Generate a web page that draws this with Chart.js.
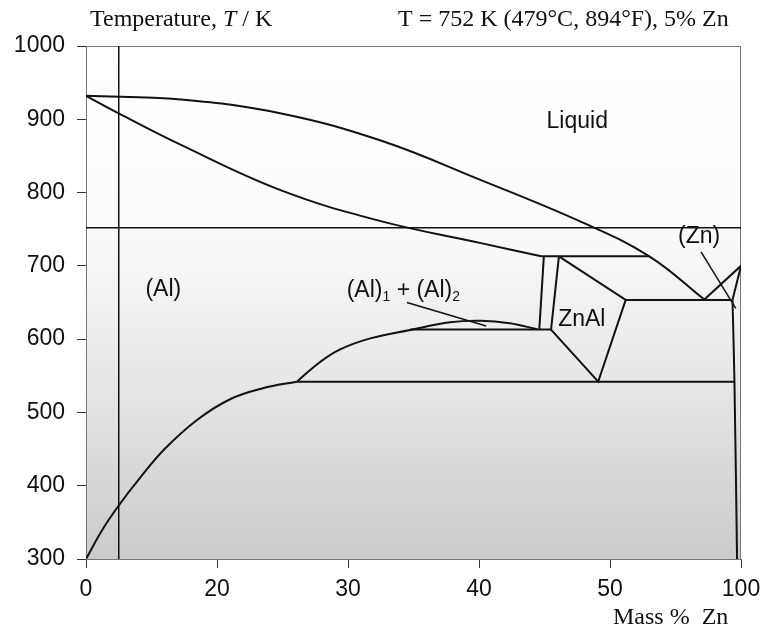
<!DOCTYPE html>
<html lang="en">
  <head>
    <meta charset="UTF-8" />
    <title>Al-Zn phase diagram</title>
    <style>
      html, body { margin: 0; padding: 0; background: #fff; }
      #wrap { width: 763px; height: 633px; }
    </style>
  </head>
  <body>
    <div id="wrap">
      <canvas id="phase" width="763" height="633"></canvas>
    </div>

    <script src="https://cdn.jsdelivr.net/npm/chart.js@4.4.1/dist/chart.umd.min.js"></script>

    <script>
      // axis ticks (the x labels are printed unevenly on the original)
      var xTickValues = [0, 20, 40, 60, 80, 100];
      var xTickLabels = ['0', '20', '30', '40', '50', '100'];
      var yMin = 300, yMax = 1000, yStep = 100;

      // phase boundaries, [mass % Zn, T / K]
      var liquidus   = [[0, 932], [14.5, 927], [29.8, 908], [45, 871], [60.3, 817], [75.6, 760], [86, 713], [94.4, 654]];
      var solidus    = [[0, 932], [5, 908], [14.5, 865], [29.8, 803], [45, 761], [60.3, 731], [69.5, 713]];
      var peritectic = [[69.5, 713], [86, 713]];
      var alRichEdge = [[69.9, 713], [69.2, 613]];
      var znAlPhase  = [[72.2, 713], [82.4, 653.5], [78.2, 542], [71, 613], [72.2, 713]];
      var gapLine    = [[49.5, 613], [71, 613]];
      var gapDome    = [[32.2, 542], [35.7, 568.5], [38.8, 586], [43.4, 601], [49.5, 612.5], [55.6, 623], [60.2, 625], [64.7, 621.7], [68.9, 613.5]];
      var solvusAl   = [[0, 300], [2.5, 340], [5, 373], [8, 408], [12, 450], [17, 490], [22, 518], [27, 533], [32.2, 542]];
      var monotectoid = [[32.2, 542], [99, 542]];
      var eutectic   = [[82.4, 653.5], [98.7, 653.5]];
      var liquidusZn = [[94.4, 654], [100, 700]];
      var solidusZn  = [[100, 700], [98.7, 653.5]];
      var solvusZn   = [[98.7, 653.5], [99, 542], [99.4, 300]];
      var pointerZn  = [[93.9, 719], [99.2, 642]];
      var pointerAl  = [[49, 650], [61.1, 618]];

      // the chosen state: 752 K, 5 % Zn
      var pickT = 752, pickZn = 5;
      var isotherm = [[0, pickT], [100, pickT]];
      var isopleth = [[pickZn, yMin], [pickZn, yMax]];

      // region labels [text, mass % Zn, T]
      var regionLabels = [
        ['Liquid', 75.0, 897],
        ['(Al)', 11.8, 667],
        ['ZnAl', 75.7, 626],
        ['(Zn)', 93.6, 740]
      ];

      function toXY(pts) {
        return pts.map(function (p) { return { x: p[0], y: p[1] }; });
      }

      function line(pts, curved, width) {
        return {
          data: toXY(pts),
          showLine: true,
          pointRadius: 0,
          borderColor: '#111',
          borderWidth: width || 2,
          tension: curved ? 0.4 : 0
        };
      }

      var datasets = [
        line(liquidus, true),
        line(solidus, true),
        line(peritectic),
        line(alRichEdge),
        line(znAlPhase),
        line(gapLine),
        line(gapDome, true),
        line(solvusAl, true),
        line(monotectoid),
        line(eutectic),
        line(liquidusZn),
        line(solidusZn),
        line(solvusZn, true),
        line(pointerZn, false, 1.5),
        line(pointerAl, false, 1.5),
        line(isotherm, false, 1.5),
        line(isopleth, false, 1.5)
      ];

      // grey gradient behind the plot and the thin frame
      var backdrop = {
        id: 'backdrop',
        beforeDatasetsDraw: function (chart) {
          var a = chart.chartArea, ctx = chart.ctx;
          var g = ctx.createLinearGradient(0, a.top, 0, a.bottom);
          g.addColorStop(0, '#ffffff');
          g.addColorStop(0.35, '#fbfbfb');
          g.addColorStop(0.65, '#e7e7e7');
          g.addColorStop(1, '#cbcbcb');
          ctx.save();
          ctx.fillStyle = g;
          ctx.fillRect(a.left, a.top, a.right - a.left, a.bottom - a.top);
          ctx.strokeStyle = '#777';
          ctx.lineWidth = 1;
          ctx.strokeRect(a.left + 0.5, a.top + 0.5, a.right - a.left - 1, a.bottom - a.top);
          ctx.restore();
        }
      };

      // texts: headers, axis unit and phase names
      var texts = {
        id: 'texts',
        afterDraw: function (chart) {
          var ctx = chart.ctx, xs = chart.scales.x, ys = chart.scales.y;
          ctx.save();
          ctx.fillStyle = '#111';
          ctx.textBaseline = 'middle';

          ctx.font = '24px "Liberation Serif"';
          var x0 = 90;
          ctx.fillText('Temperature, ', x0, 20);
          x0 += ctx.measureText('Temperature, ').width;
          ctx.font = 'italic 24px "Liberation Serif"';
          ctx.fillText('T', x0, 20);
          x0 += ctx.measureText('T').width;
          ctx.font = '24px "Liberation Serif"';
          ctx.fillText(' / K', x0, 20);

          ctx.fillText('T = ' + pickT + ' K (479°C, 894°F), ' + pickZn + '% Zn', 398, 20);
          ctx.fillText('Mass %  Zn', 613, 618);

          ctx.font = '23px "Liberation Sans"';
          ctx.textAlign = 'center';
          regionLabels.forEach(function (l) {
            ctx.fillText(l[0], xs.getPixelForValue(l[1]), ys.getPixelForValue(l[2]));
          });

          // (Al)1 + (Al)2 with subscripts
          ctx.textAlign = 'left';
          var px = xs.getPixelForValue(39.8), py = ys.getPixelForValue(666);
          var parts = [['(Al)', 0], ['1', 1], [' + (Al)', 0], ['2', 1]];
          parts.forEach(function (p) {
            ctx.font = p[1] ? '14px "Liberation Sans"' : '23px "Liberation Sans"';
            ctx.fillText(p[0], px, py + (p[1] ? 6 : 0));
            px += ctx.measureText(p[0]).width;
          });
          ctx.restore();
        }
      };

      new Chart(document.getElementById('phase'), {
        type: 'scatter',
        data: { datasets: datasets },
        options: {
          responsive: false,
          animation: false,
          layout: { padding: { top: 46, right: 22, left: 0, bottom: 0 } },
          plugins: { legend: { display: false }, tooltip: { enabled: false } },
          scales: {
            x: {
              type: 'linear',
              min: 0,
              max: 100,
              afterFit: function (s) {
                s.height = 74;
                s.paddingLeft = 0;
                s.paddingRight = 0;
              },
              afterBuildTicks: function (s) {
                s.ticks = xTickValues.map(function (v) { return { value: v }; });
              },
              ticks: {
                autoSkip: false,
                maxRotation: 0,
                padding: 8,
                color: '#111',
                font: { family: 'Liberation Sans', size: 23 },
                callback: function (v) { return xTickLabels[xTickValues.indexOf(v)]; }
              },
              grid: { drawOnChartArea: false, tickLength: 9, color: '#333' },
              border: { color: '#666' }
            },
            y: {
              type: 'linear',
              min: yMin,
              max: yMax,
              afterFit: function (s) {
                s.width = 86;
                s.paddingTop = 0;
                s.paddingBottom = 0;
              },
              ticks: {
                stepSize: yStep,
                padding: 12,
                color: '#111',
                font: { family: 'Liberation Sans', size: 23 },
                callback: function (v) { return String(v); }
              },
              grid: { drawOnChartArea: false, tickLength: 9, color: '#333' },
              border: { color: '#666' }
            }
          }
        },
        plugins: [backdrop, texts]
      });
    </script>
  </body>
</html>
